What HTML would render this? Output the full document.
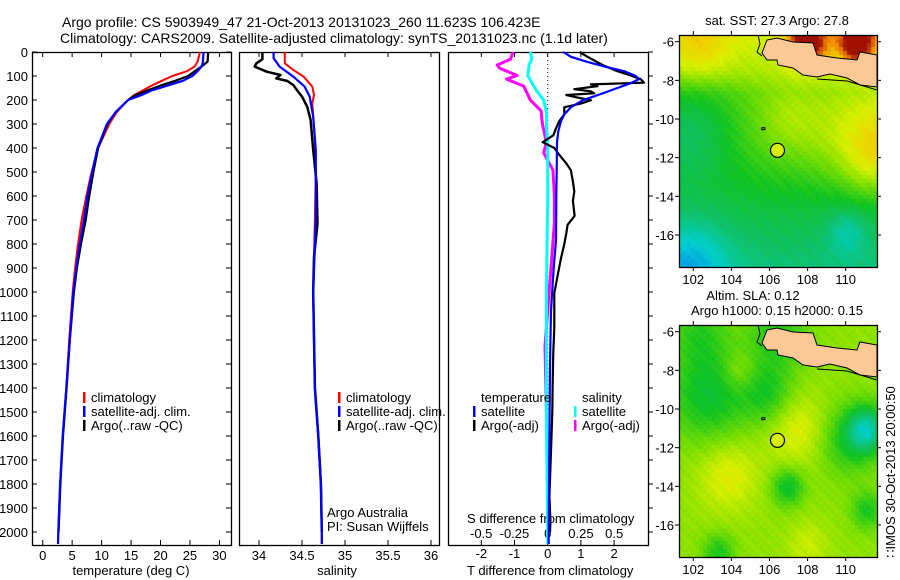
<!DOCTYPE html>
<html><head><meta charset="utf-8">
<style>
html,body{margin:0;padding:0;background:#fff;}
#wrap{position:relative;width:900px;height:580px;overflow:hidden;font-family:"Liberation Sans",sans-serif;}
canvas{position:absolute;}
svg{position:absolute;left:0;top:0;}
svg text{font-family:"Liberation Sans",sans-serif;font-size:13px;fill:#000;}
</style></head>
<body>
<div id="wrap">
<canvas id="mapTop" style="left:679px;top:35px" width="198" height="232"></canvas>
<canvas id="mapBot" style="left:679px;top:325px" width="198" height="232"></canvas>
<svg id="fig" width="900" height="580" xmlns="http://www.w3.org/2000/svg">
<text x="62" y="27" style="font-size:14px">Argo profile: CS 5903949_47 21-Oct-2013 20131023_260 11.623S 106.423E</text>
<text x="60" y="43" style="font-size:14px">Climatology: CARS2009. Satellite-adjusted climatology: synTS_20131023.nc (1.1d later)</text>
</svg>
</div>
<script>
// ---------------- data ----------------
const depthTemp = [0,40,60,80,100,120,140,160,180,200,250,300,400,500,600,700,800,900,1000,1200,1400,1600,1800,2000,2050];
const tempClim = [26.7,26.3,25.8,24.5,22.0,20.2,18.5,17.0,15.5,14.5,12.6,11.3,9.4,8.3,7.4,6.6,6.0,5.5,5.1,4.5,4.0,3.4,2.95,2.65,2.6];
const tempSat  = [27.3,27.2,27.0,26.3,25.4,23.8,21.2,18.5,16.7,14.5,12.4,10.9,9.3,8.4,7.6,7.0,6.3,5.7,5.2,4.6,4.0,3.4,2.95,2.65,2.6];
const depthArgo = [0,40,60,80,100,120,140,160,180,200,250,300,400,500,600,700,800,900,1000,1200,1400,1600,1800,2000];
const tempArgo = [28.1,28.0,27.0,25.8,24.7,22.5,20.0,17.8,15.7,14.5,12.4,11.0,9.4,8.6,7.9,7.3,6.5,5.8,5.3,4.6,4.05,3.45,3.0,2.7];

const depthSal = [0,47,75,103,144,179,214,270,367,500,700,1000,1400,1600,1800,2000,2050];
const salClim = [34.30,34.30,34.40,34.52,34.62,34.64,34.62,34.63,34.65,34.66,34.65,34.63,34.65,34.69,34.72,34.73,34.73];
const depthSalSat = [0,26,61,103,144,186,270,409,700,1000,1400,1600,1800,2000,2050];
const salSat = [34.17,34.17,34.24,34.40,34.53,34.59,34.63,34.66,34.66,34.63,34.65,34.69,34.72,34.73,34.73];
const depthSalArgo = [0,30,47,61,82,96,110,121,138,158,186,228,283,408,547,714,855,1000,1400,1600,1800,2000];
const salArgo = [34.04,34.04,33.97,33.95,34.09,34.25,34.20,34.33,34.40,34.44,34.50,34.56,34.60,34.63,34.67,34.68,34.64,34.63,34.65,34.69,34.72,34.73];

const depthDT = [0,20,40,60,80,100,113,130,150,175,201,230,260,288,330,376,500,600,785,900,1078,1300,1600,2000,2050];
const dTsat = [0.47,0.7,1.16,1.7,2.3,2.65,2.75,2.5,2.1,1.6,1.06,0.7,0.5,0.4,0.32,0.28,0.27,0.26,0.25,0.18,0.1,0.07,0.05,0.03,0.03];
const depthDTArgo = [0,20,54,80,98,113,128,135,142,155,164,172,179,190,201,215,230,259,288,318,347,376,400,420,464,493,540,581,620,683,720,756,800,859,930,1005,1080,1151,1250,1370,1500,1663,1853,1955,2000];
const dTargo = [0.96,1.2,1.65,2.1,2.5,2.8,2.9,1.3,1.5,0.8,1.3,1.4,0.56,0.9,1.3,1.0,0.5,0.5,0.35,0.25,0.17,-0.15,0.2,0.3,0.56,0.7,0.76,0.8,0.76,0.81,0.6,0.56,0.5,0.4,0.3,0.2,0.2,0.2,0.17,0.15,0.14,0.1,0.05,0.08,0.07];
const depthDS = [0,30,54,98,128,164,201,250,300,400,600,1000,1500,2000,2050];
const dSsat = [-0.13,-0.12,-0.14,-0.15,-0.12,-0.08,-0.03,-0.01,-0.01,0,0,-0.01,-0.01,0,0];
const depthDSArgo = [0,30,54,68,98,113,142,201,245,300,376,420,493,600,712,930,1224,1500];
const dSargo = [-0.26,-0.28,-0.38,-0.36,-0.23,-0.31,-0.18,-0.13,-0.05,-0.04,-0.01,-0.03,0.04,0.05,0.05,0.02,-0.02,-0.01];

const depthTicks = [0,100,200,300,400,500,600,700,800,900,1000,1100,1200,1300,1400,1500,1600,1700,1800,1900,2000];
const tempTicks = [0,5,10,15,20,25,30];
const salTicks = [34,34.5,35,35.5,36];
const dTTicks = [-2,-1,0,1,2];
const dSTicks = [-0.5,-0.25,0,0.25,0.5];
const lonTicks = [102,104,106,108,110];
const latTicks = [-6,-8,-10,-12,-14,-16];

// ---------------- axes ----------------
const TOP=52, BOT=545;
const yD = d => TOP + d*0.24;
const xT = t => 42.7 + t*5.89;
const xS = s => 259 + (s-34)*86;
const xDT = v => 547.7 + v*33.2;
const xDS = v => 547.7 + v*133;

const svg = document.getElementById('fig');
const NS='http://www.w3.org/2000/svg';
function mk(tag, attrs, parent){const e=document.createElementNS(NS,tag);for(const k in attrs)e.setAttribute(k,attrs[k]);(parent||svg).appendChild(e);return e;}
function txt(x,y,s,anchor,extra){const e=mk('text',{x:x,y:y,'text-anchor':anchor||'start'});if(extra)e.setAttribute('style',extra);e.textContent=s;return e;}

const panels=[[32,231,'temperature-panel'],[239,439,'salinity-panel'],[448,648,'difference-panel']];
panels.forEach(p=>{
  const r=mk('rect',{x:p[0]+0.5,y:TOP+0.5,width:p[1]-p[0],height:BOT-TOP,fill:'none',stroke:'#000','stroke-width':1.3});
  
  
});
depthTicks.forEach(d=>{
  const y=yD(d);
  const l=txt(28,y+5,String(d),'end');
  
  
  mk('line',{x1:32,x2:37,y1:y,y2:y,stroke:'#000'});
  mk('line',{x1:226,x2:231,y1:y,y2:y,stroke:'#000'});
  mk('line',{x1:648,x2:653,y1:y,y2:y,stroke:'#000'});
});
function xticks(ticks,fx,lab,y){ticks.forEach(t=>{const x=fx(t);
  mk('line',{x1:x,x2:x,y1:BOT,y2:BOT-5,stroke:'#000'});
  mk('line',{x1:x,x2:x,y1:TOP,y2:TOP+5,stroke:'#000'});
  const l=txt(x,y,String(t),'middle');
  
  });}
xticks(tempTicks,xT,'temperature-tick-label',560);
xticks(salTicks,xS,'salinity-tick-label',560);
xticks(dTTicks,xDT,'t-diff-tick-label',558);
dSTicks.forEach(t=>{const x=xDS(t);const l=txt(x,538,String(t),'middle');
  
  });
let e;
e=txt(131,575,'temperature (deg C)','middle');
e=txt(337,575,'salinity','middle');
e=txt(467,575,'T difference from climatology');
e=txt(467,523,'S difference from climatology');
mk('line',{x1:xDT(0),x2:xDT(0),y1:TOP,y2:yD(1500),stroke:'#000','stroke-dasharray':'1,3'});

function line(ds,vs,fx,color,w,name){
  const pts=ds.map((d,i)=>fx(vs[i]).toFixed(1)+','+yD(d).toFixed(1)).join(' ');
  const p=mk('polyline',{points:pts,fill:'none',stroke:color,'stroke-width':w,'stroke-linejoin':'round'});
  
  
}
line(depthTemp,tempClim,xT,'#f00',2,'temp-climatology-line');
line(depthArgo,tempArgo,xT,'#000',2.2,'temp-argo-line');
line(depthTemp,tempSat,xT,'#00f',2.2,'temp-satellite-line');
line(depthSal,salClim,xS,'#f00',2,'sal-climatology-line');
line(depthSalArgo,salArgo,xS,'#000',2.5,'sal-argo-line');
line(depthSalSat,salSat,xS,'#00f',2.2,'sal-satellite-line');
line(depthDSArgo,dSargo,xDS,'#f0f',3,'s-diff-argo-line');
line(depthDS,dSsat,xDS,'#0ff',3,'s-diff-satellite-line');
line(depthDTArgo,dTargo,xDT,'#000',2.2,'t-diff-argo-line');
line(depthDT,dTsat,xDT,'#00f',2.2,'t-diff-satellite-line');

function legend(x,y,color,label,name){
  mk('rect',{x:x,y:y-10,width:2.5,height:11,fill:color});
  const t=txt(x+8,y,label);
  
  
}
legend(83,402,'#f00','climatology','legend-climatology');
legend(83,416,'#00f','satellite-adj. clim.','legend-satellite-adj');
legend(83,430,'#000','Argo(..raw -QC)','legend-argo');
legend(338,402,'#f00','climatology','legend-climatology-sal');
legend(338,416,'#00f','satellite-adj. clim.','legend-satellite-adj-sal');
legend(338,430,'#000','Argo(..raw -QC)','legend-argo-sal');
e=txt(481,402,'temperature');
e=txt(582,402,'salinity');
legend(473,416,'#00f','satellite','legend-t-satellite');
legend(473,430,'#000','Argo(-adj)','legend-t-argo');
legend(574,416,'#0ff','satellite','legend-s-satellite');
legend(574,430,'#f0f','Argo(-adj)','legend-s-argo');
e=txt(327,517,'Argo Australia');
e=txt(327,531,'PI: Susan Wijffels');

// ---------------- maps ----------------
const MX=679, MW=198, MH=232;
const xLon = lon => MX + (lon-101.25)*19.05;
const yLat = (lat,top) => top + 6.7 + (-6-lat)*19.33;
const stops=[[0,[16,96,255]],[0.2,[0,208,208]],[0.35,[16,192,96]],[0.45,[16,196,32]],[0.6,[128,224,0]],[0.72,[216,240,0]],[0.82,[240,208,0]],[0.9,[240,128,0]],[1,[160,16,0]]];
function cmap(v){v=Math.max(0,Math.min(1,v));for(let i=1;i<stops.length;i++){if(v<=stops[i][0]){const a=stops[i-1],b=stops[i],f=(v-a[0])/(b[0]-a[0]);return 'rgb('+a[1].map((c,k)=>Math.round(c+(b[1][k]-c)*f)).join(',')+')';}}return 'rgb(160,16,0)';}
function interp(xs,ys,x){if(x<=xs[0])return ys[0];for(let i=1;i<xs.length;i++)if(x<=xs[i])return ys[i-1]+(ys[i]-ys[i-1])*(x-xs[i-1])/(xs[i]-xs[i-1]);return ys[ys.length-1];}
const sstBaseT=[0,0.15,0.25,0.45,0.6,0.75,1];
const sstBaseV=[0.72,0.66,0.56,0.52,0.46,0.4,0.32];
const sstBlobs=[[0.1,0.05,0.12,0.15],[0.97,0.55,0.14,0.15],[0.1,0.4,-0.1,0.2],[0.05,1.0,-0.2,0.2],[0.85,0.85,-0.12,0.1],[0.55,0.35,0.05,0.12],[0.65,0.03,0.4,0.1],[0.9,0.03,0.4,0.1]];
const slaBlobs=[[0.15,0.3,-0.2,0.2],[0.45,0.3,-0.15,0.13],[0.5,0.05,-0.15,0.15],[0.1,0.02,-0.12,0.15],[0.95,0.45,-0.32,0.1],[0.85,0.5,-0.15,0.15],[0.6,0.45,0.12,0.15],[0.25,0.65,0.12,0.15],[0.55,0.7,-0.2,0.08],[0.95,0.8,-0.16,0.08],[0.2,0.98,-0.16,0.08],[0.65,0.95,0.08,0.1],[0.3,0.2,0.08,0.08]];
function drawMap(id,baseFn,blobs){
  const c=document.getElementById(id).getContext('2d');
  const cs=4;
  for(let y=0;y<MH;y+=cs)for(let x=0;x<MW;x+=cs){
    const u=(x+2)/MW,v=(y+2)/MH;let val=baseFn(u,v);
    blobs.forEach(b=>{const dx=u-b[0],dy=v-b[1];val+=b[2]*Math.exp(-(dx*dx+dy*dy)/(b[3]*b[3]));});
    val+=((x*7+y*13)%5-2)*0.008;
    c.fillStyle=cmap(val);c.fillRect(x,y,cs,cs);
  }
}
drawMap('mapTop',(u,v)=>interp(sstBaseT,sstBaseV,v)+Math.exp(-Math.pow((v-0.42)/0.22,2))*(u-0.3)*0.3,sstBlobs);
drawMap('mapBot',(u,v)=>0.62,slaBlobs);

const land=[[762,53],[767,40],[777,38],[793,42],[813,43],[817,55],[837,58],[857,60],[860,52],[877,55],[877,87],[860,85],[847,78],[830,74],[817,77],[803,75],[793,68],[778,65],[777,60],[767,60]];
[[35,'sst'],[325,'sla']].forEach(m=>{
  const top=m[0], off=top-35;
  const fr=mk('rect',{x:MX+0.5,y:top+0.5,width:MW,height:MH,fill:'none',stroke:'#000','stroke-width':1.3});
  
  
  const lp=mk('polygon',{points:land.map(p=>p[0]+','+(p[1]+off)).join(' '),fill:'#fbc896',stroke:'#000','stroke-width':1});
  
  
  mk('polyline',{points:`${817},${79+off} ${847},${81+off} ${877},${90+off}`,fill:'none',stroke:'#000'});
  mk('polyline',{points:`${758},${top} ${760},${44+off} ${757},${52+off} ${762},${56+off}`,fill:'none',stroke:'#000'});
  lonTicks.forEach(l=>{const x=xLon(l);mk('line',{x1:x,x2:x,y1:top,y2:top-4,stroke:'#000'});mk('line',{x1:x,x2:x,y1:top+MH,y2:top+MH+4,stroke:'#000'});
    const t=txt(x,top+MH+17,String(l),'middle');
    
    });
  latTicks.forEach(l=>{const y=yLat(l,top);mk('line',{x1:MX,x2:MX-4,y1:y,y2:y,stroke:'#000'});mk('line',{x1:MX+MW,x2:MX+MW+4,y1:y,y2:y,stroke:'#000'});
    const t=txt(674,y+5,String(l),'end');
    
    });
  const c=mk('circle',{cx:xLon(106.42),cy:yLat(-11.62,top),r:7,fill:'#d8f000',stroke:'#000','stroke-width':1.2});
  
  
  mk('rect',{x:xLon(105.6),y:yLat(-10.45,top),width:3,height:2,fill:'none',stroke:'#000'});
});
e=txt(777,25,'sat. SST: 27.3 Argo: 27.8','middle');
e=txt(753,300,'Altim. SLA: 0.12','middle');
e=txt(777,315,'Argo h1000: 0.15 h2000: 0.15','middle');
e=txt(0,0,'\u2237IMOS 30-Oct-2013 20:00:50','middle');
e.setAttribute('transform','translate(895,472) rotate(-90)');


</script>
</body></html>
